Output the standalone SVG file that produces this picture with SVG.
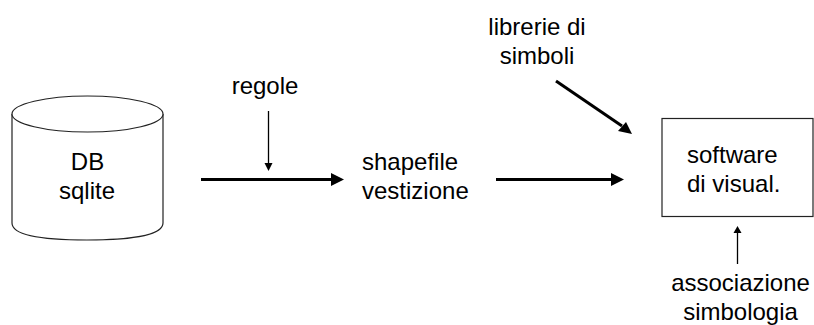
<svg xmlns="http://www.w3.org/2000/svg" width="814" height="325" viewBox="0 0 814 325">
<style>
text{font-family:"Liberation Sans",Arial,sans-serif;font-size:24px;fill:#000}
.m{text-anchor:middle}
.s{fill:#fff;stroke:#222;stroke-width:1.2}
.c{fill:none;stroke:#000}
.t{stroke-width:3}
.n{stroke-width:1.3}
</style>
<rect width="814" height="325" fill="#fff"/>
<g id="connectors">
<g id="c1"><line class="c t" x1="201" y1="179.500" x2="332" y2="179.500"/><polygon points="344,179.500 331,173 331,186"/></g>
<g id="c2"><line class="c n" x1="268.500" y1="111" x2="268.500" y2="164"/><polygon points="268.500,171 264.500,163 272.500,163"/></g>
<g id="c3"><line class="c t" x1="496" y1="179.500" x2="612" y2="179.500"/><polygon points="624,179.500 611,173 611,186"/></g>
<g id="c4"><line class="c t" x1="556" y1="81" x2="622" y2="126"/><polygon points="632,134 618,131 626,122"/></g>
<g id="c5"><line class="c n" x1="737.500" y1="264" x2="737.500" y2="232"/><polygon points="737.500,226 733.500,233 741.500,233"/></g>
</g>
<g id="db">
<path class="s" d="M12 114V223C12 236 47 240 87 240C127 240 163 236 163 223V114"/>
<ellipse class="s" cx="87.500" cy="114" rx="75.500" ry="18"/>
<text class="m" x="87.500" y="170">DB</text>
<text class="m" x="87" y="199">sqlite</text>
</g>
<g id="regole"><text class="m" x="265" y="94">regole</text></g>
<g id="shapefile">
<text x="362" y="169.500">shapefile</text>
<text x="362" y="199">vestizione</text>
</g>
<g id="librerie">
<text class="m" x="537" y="35">librerie di</text>
<text class="m" x="537" y="64">simboli</text>
</g>
<g id="software">
<rect class="s" x="662" y="118.500" width="151" height="98"/>
<text x="687" y="163">software</text>
<text x="687" y="192">di visual.</text>
</g>
<g id="associazione">
<text class="m" x="740.500" y="290.500">associazione</text>
<text class="m" x="740.500" y="320">simbologia</text>
</g>
</svg>
